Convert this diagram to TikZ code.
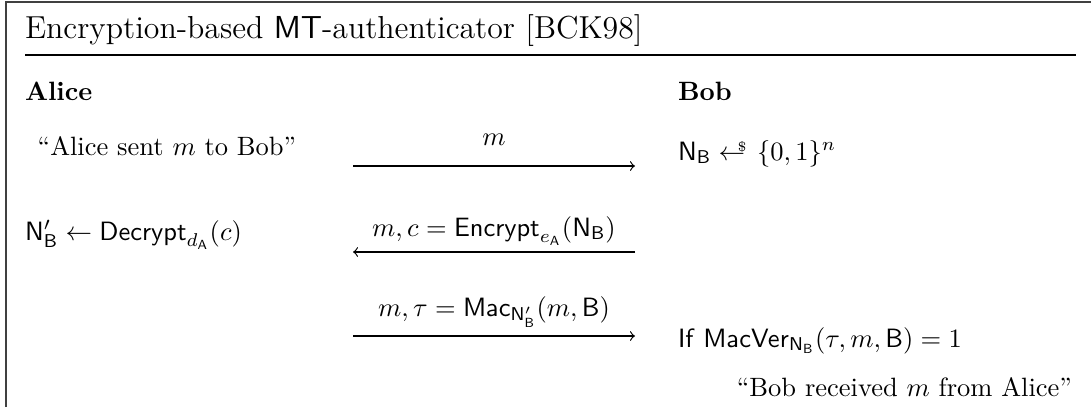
\documentclass[tikz,border=0pt]{standalone}
\usepackage{amsmath}
% sampling arrow with a small dollar sign above its tail
\newcommand{\smpl}{\mathrel{\leftarrow\mkern-10mu\raisebox{0.75ex}{\tiny\$}\mkern2mu}}
\begin{document}
\begin{tikzpicture}[x=0.3774pt,y=-0.3774pt,
  txt/.style={inner sep=0pt, outer sep=0pt},
  framestroke/.style={line width=0.5pt, black!75},
  rulestroke/.style={line width=0.45pt, black},
  msg/.style={line width=0.45pt, ->}]
\useasboundingbox (0,0) rectangle (1091,407);
% open frame and title rule
\draw[framestroke] (6,407) -- (6,2) -- (1091,2);
\draw[rulestroke] (25,55) -- (1076,55);
\node[txt, anchor=base west] (title) at (25,38) {\large Encryption-based \textsf{MT}-authenticator [BCK98]};
% parties
\node[txt, anchor=base west] (alice) at (25,100) {\textbf{Alice}};
\node[txt, anchor=base west] (bob) at (678,100) {\textbf{Bob}};
% round 1
\node[txt, anchor=base] (a1) at (167,155) {``Alice sent $m$ to Bob''};
\node[txt, anchor=base west] (b1) at (678,160) {$\mathsf{N}_{\mathsf{B}} \smpl \{0,1\}^n$};
\coordinate (s1) at (353,166);
\coordinate (e1) at (635,166);
\draw[msg] (s1) -- (e1);
\node[txt, anchor=base] (l1) at (494,145) {$m$};
% round 2
\node[txt, anchor=base west] (a2) at (25,240) {$\mathsf{N}'_{\mathsf{B}} \gets \mathsf{Decrypt}_{d_{\mathsf{A}}}(c)$};
\coordinate (s2) at (635,252);
\coordinate (e2) at (353,252);
\draw[msg] (s2) -- (e2);
\node[txt, anchor=base] (l2) at (494,236) {$m, c = \mathsf{Encrypt}_{e_{\mathsf{A}}}(\mathsf{N}_{\mathsf{B}})$};
% round 3
\coordinate (s3) at (353,336);
\coordinate (e3) at (635,336);
\draw[msg] (s3) -- (e3);
\node[txt, anchor=base] (l3) at (494,316) {$m, \tau = \mathsf{Mac}_{\mathsf{N}'_{\mathsf{B}}}(m, \mathsf{B})$};
\node[txt, anchor=base west] (b3) at (678,347) {\textsf{If} $\mathsf{MacVer}_{\mathsf{N}_{\mathsf{B}}}(\tau, m, \mathsf{B}) = 1$};
\node[txt, anchor=base east] (b4) at (1072,396) {``Bob received $m$ from Alice''};
\end{tikzpicture}
\end{document}
